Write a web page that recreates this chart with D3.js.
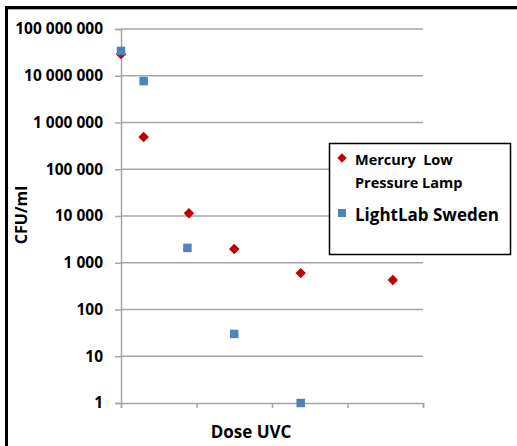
<!DOCTYPE html>
<html><head><meta charset="utf-8">
<script src="https://cdn.jsdelivr.net/npm/d3@7"></script>
<style>
html,body{margin:0;padding:0;background:#fff;}
svg{display:block;}
text{font-family:"Open Sans",sans-serif;font-weight:bold;fill:#000;}
</style></head>
<body>
<svg id="chart" width="517" height="446"></svg>
<script>
// Data
const mercuryDose = [0, 15, 45, 75, 119, 180];
const mercuryCFU  = [2.9e7, 4.9e5, 1.15e4, 1.96e3, 600, 430];
const lightlabDose = [0, 15, 44, 75, 119];
const lightlabCFU  = [3.4e7, 7.7e6, 2.08e3, 30, 1];
const yTickValues = [1, 10, 100, 1000, 10000, 100000, 1000000, 10000000, 100000000];
const xTickValues = [0, 50, 100, 150, 200];
const seriesNames = ["Mercury  Low", "Pressure Lamp", "LightLab Sweden"];

const svg = d3.select("#chart");
const pL = 121, pR = 423, pT = 29, pB = 403;

// outer frame (thick black left/top)
svg.append("line").attr("x1",6).attr("x2",517).attr("y1",7.5).attr("y2",7.5).attr("stroke","#000").attr("stroke-width",3);
svg.append("line").attr("x1",8).attr("x2",517).attr("y1",9.5).attr("y2",9.5).attr("stroke","#aaa").attr("stroke-width",1);
svg.append("line").attr("x1",6.5).attr("x2",6.5).attr("y1",6).attr("y2",446).attr("stroke","#000").attr("stroke-width",3);

const x = d3.scaleLinear().domain([0,200]).range([pL,pR]);
const y = d3.scaleLog().domain([1,1e8]).range([pB,pT]);

const fmt = d => d3.format(",")(d).replace(/,/g," ");

// gridlines
svg.append("g").selectAll("line").data(yTickValues.slice(1)).join("line")
  .attr("x1",pL).attr("x2",pR).attr("y1",d=>y(d)).attr("y2",d=>y(d))
  .attr("stroke","#a6a6a6").attr("stroke-width",1.5);

// y axis
const yAxis = svg.append("g").attr("transform",`translate(${pL},0)`)
  .call(d3.axisLeft(y).tickValues(yTickValues).tickFormat(fmt).tickSize(6).tickPadding(12));
yAxis.select(".domain").attr("stroke","#a6a6a6").attr("stroke-width",1.5);
yAxis.selectAll(".tick line").attr("stroke","#a6a6a6").attr("stroke-width",1.5);
yAxis.selectAll("text").attr("font-size","15.5px").attr("fill","#000").style("font-family","'Open Sans',sans-serif").style("font-weight","bold");

// x axis
const xAxis = svg.append("g").attr("transform",`translate(0,${pB})`)
  .call(d3.axisBottom(x).tickValues(xTickValues).tickFormat("").tickSize(5));
xAxis.select(".domain").attr("stroke","#a6a6a6").attr("stroke-width",1.5);
xAxis.selectAll(".tick line").attr("stroke","#a6a6a6").attr("stroke-width",1.5);

// axis titles
svg.append("text").attr("x",251).attr("y",438).attr("text-anchor","middle").attr("font-size","17px").text("Dose UVC");
svg.append("text").attr("transform","translate(27,215) rotate(-90)").attr("text-anchor","middle").attr("font-size","16px").text("CFU/ml");

// markers
const diamond = d3.symbol().type(d3.symbolDiamond2).size(70);
const square = d3.symbol().type(d3.symbolSquare).size(72);

svg.append("g").selectAll("path").data(mercuryDose.map((d,i)=>[d,mercuryCFU[i]])).join("path")
  .attr("d",diamond).attr("transform",d=>`translate(${x(d[0])},${y(d[1])})`).attr("fill","#c00000");
svg.append("g").selectAll("path").data(lightlabDose.map((d,i)=>[d,lightlabCFU[i]])).join("path")
  .attr("d",square).attr("transform",d=>`translate(${x(d[0])},${y(d[1])})`).attr("fill","#4f81bd");

// legend
const lg = svg.append("g");
lg.append("rect").attr("x",329.5).attr("y",143.5).attr("width",181).attr("height",111)
  .attr("fill","#fff").attr("stroke","#000").attr("stroke-width",1.5);
lg.append("path").attr("d",d3.symbol().type(d3.symbolDiamond2).size(55)).attr("transform","translate(342,158)").attr("fill","#c00000");
lg.append("text").attr("x",355).attr("y",165).attr("font-size","14.5px").style("white-space","pre").text(seriesNames[0]);
lg.append("text").attr("x",355).attr("y",188).attr("font-size","14.5px").text(seriesNames[1]);
lg.append("path").attr("d",d3.symbol().type(d3.symbolSquare).size(64)).attr("transform","translate(342,213)").attr("fill","#4f81bd");
lg.append("text").attr("x",355).attr("y",220.5).attr("font-size","17px").text(seriesNames[2]);
</script>
</body></html>
